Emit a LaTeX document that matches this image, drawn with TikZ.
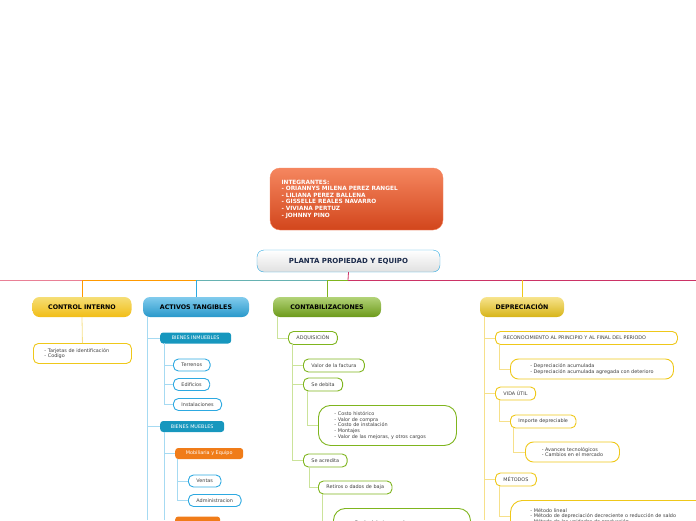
\documentclass[tikz,border=0pt]{standalone}
\usepackage{fontspec}
\setmainfont{DejaVu Sans}
\usetikzlibrary{calc}
\definecolor{yel}{HTML}{EFC81A}\definecolor{yell}{HTML}{F6E08A}
\definecolor{grn}{HTML}{7FB51E}\definecolor{grnl}{HTML}{CBE39A}
\definecolor{blu}{HTML}{2DA9E1}\definecolor{blul}{HTML}{A6DAF2}
\definecolor{teal2}{HTML}{1797BE}\definecolor{org}{HTML}{F07C19}
\definecolor{navy}{HTML}{1B2A4A}
\definecolor{itop}{HTML}{F5865F}\definecolor{ibot}{HTML}{D2461C}
\begin{document}
\begin{tikzpicture}[x=1pt,y=-1pt,
 box/.style={draw,rounded corners=5pt,line width=0.9pt,fill=white,inner sep=1.5pt,anchor=north west,font=\fontsize{4.9}{5.8}\selectfont,text=black!75,align=left},
 main/.style={rounded corners=7pt,inner sep=0pt,font=\bfseries\fontsize{6.3}{7}\selectfont,text=black},
 ln/.style={line width=0.8pt}]
\useasboundingbox (0,0) rectangle (696,520);
\clip (0,0) rectangle (696,520);
% top lines
\draw[ln,color=red!30!purple!50!white] (0,280) -- (82,280);
\draw[ln,color=orange!80!yellow] (82,280) -- (196,280);
\draw[ln,color=teal!60] (196,280) -- (327,280);
\draw[ln,color=grn] (327,280) -- (348,280);
\draw[ln,color=purple!80] (348,280) -- (696,280);
% integrantes
\node[rounded corners=10pt,top color=itop,bottom color=ibot,draw=itop,minimum width=173pt,minimum height=62pt,text=white,font=\bfseries\fontsize{5.8}{6.6}\selectfont,align=left,text width=150pt] (int) at (356.5,199) {INTEGRANTES:\\- ORIANNYS MILENA PEREZ RANGEL\\- LILIANA PEREZ BALLENA\\- GISSELLE REALES NAVARRO\\- VIVIANA PERTUZ\\- JOHNNY PINO};
% central
\node[rounded corners=7pt,draw=blu,top color=white,bottom color=black!12,minimum width=183pt,minimum height=22pt,font=\bfseries\fontsize{7}{8}\selectfont,text=navy] (root) at (348.5,261) {PLANTA PROPIEDAD Y EQUIPO};
\draw[ln,purple!80] (root.south) -- (348,280);
% main branches
\node[main,top color=yel!60,bottom color=yel!85!orange,minimum width=99pt,minimum height=20pt] (ci) at (82,307) {CONTROL INTERNO};
\node[main,top color=blu!60,bottom color=blu!90!black,minimum width=106pt,minimum height=20pt] (at) at (196,307) {ACTIVOS TANGIBLES};
\node[main,top color=grn!60,bottom color=grn!85!black,minimum width=108pt,minimum height=20pt] (co) at (327,307) {CONTABILIZACIONES};
\node[main,top color=yel!50,bottom color=yel!90!black,minimum width=84pt,minimum height=20pt] (de) at (522,307) {DEPRECIACIÓN};
\draw[ln,orange!80!yellow] (ci.north) -- (82,280);
\draw[ln,blu] (at.north) -- (196,280);
\draw[ln,grn] (co.north) -- (327,280);
\draw[ln,yel] (de.north) -- (522,280);
% control interno
\node[box,draw=yel,minimum width=98pt,minimum height=20pt,text width=90pt] (ci1) at (33,343) {\hspace*{7pt}- Tarjetas de identificación\\\hspace*{7pt}- Codigo};
\draw[ln,yell] (ci.south) -- (ci1.north);
% activos tangibles
\tikzset{fb/.style={anchor=west,rounded corners=3pt,inner sep=2pt,font=\fontsize{4.9}{5.8}\selectfont,text=white,minimum height=11pt}}
\node[fb,fill=teal2,minimum width=71pt] (bi) at (160,338) {BIENES INMUEBLES};
\node[fb,fill=teal2,minimum width=64pt] (bm) at (160,426.5) {BIENES MUEBLES};
\draw[ln,blul] (147,317) -- (147,520);
\draw[ln,blul] (147,338) -- (bi.west); \draw[ln,blul] (147,426.5) -- (bm.west);
\tikzset{bb/.style={box,anchor=west,draw=blu,minimum height=12pt,inner xsep=8pt}}
\node[bb] (t1) at (173,365) {Terrenos};
\node[bb] (t2) at (173,384.5) {Edificios};
\node[bb] (t3) at (173,404.5) {Instalaciones};
\draw[ln,blul] (164,343) |- (t1.west); \draw[ln,blul] (164,343) |- (t2.west); \draw[ln,blul] (164,343) |- (t3.west);
\node[fb,fill=org,minimum width=68pt] (mo) at (175,453.5) {Mobiliaria y Equipo};
\node[fb,fill=org,minimum width=45pt] (mo2) at (175,522) {};
\draw[ln,blul] (164,432) -- (164,520); \draw[ln,blul] (164,453.5) -- (mo.west);\draw[ln,blul] (164,522) -- (mo2.west);
\node[bb] (v1) at (188,481) {Ventas};
\node[bb] (v2) at (188,500.5) {Administracion};
\draw[ln,blul] (177,459) |- (v1.west); \draw[ln,blul] (177,459) |- (v2.west);
% contabilizaciones
\tikzset{gb/.style={box,anchor=west,draw=grn,minimum height=13pt,inner xsep=8pt}}
\node[gb] (aq) at (288,338) {ADQUISICIÓN};
\draw[ln,grnl] (277,317) |- (aq.west);
\node[gb] (vf) at (303,365.5) {Valor de la factura};
\node[gb] (sd) at (303,384.5) {Se debita};
\node[gb] (sa) at (303,460.5) {Se acredita};
\draw[ln,grnl] (292,344) |- (vf.west); \draw[ln,grnl] (292,344) |- (sd.west); \draw[ln,grnl] (292,344) |- (sa.west);
\node[box,draw=grn,rounded corners=12pt,minimum width=138pt,minimum height=40pt,text width=118pt,inner xsep=10pt] (lst) at (318,405) {\hspace*{6pt}- Costo histórico\\\hspace*{6pt}- Valor de compra\\\hspace*{6pt}- Costo de instalación\\\hspace*{6pt}- Montajes\\\hspace*{6pt}- Valor de las mejoras, y otros cargos};
\draw[ln,grnl] (307,391) |- (lst.west);
\node[gb] (rb) at (318,487.5) {Retiros o dados de baja};
\draw[ln,grnl] (309,467) |- (rb.west);
\node[box,draw=grn,rounded corners=12pt,minimum width=137pt,minimum height=30pt,text width=117pt,inner xsep=10pt] (rb1) at (333,508) {\hspace*{8pt}- Se da debaja por robo};
\draw[ln,grnl] (322,494) |- (rb1.west);
% depreciacion
\tikzset{yb/.style={box,anchor=west,draw=yel,minimum height=13pt,inner xsep=8pt}}
\draw[ln,yell] (484,317) -- (484,520);
\node[yb,text width=166pt] (rc) at (495,338) {RECONOCIMIENTO AL PRINCIPIO Y AL FINAL DEL PERIODO};
\node[yb] (vu) at (495,393.5) {VIDA ÚTIL};
\node[yb] (me) at (495,479.5) {MÉTODOS};
\draw[ln,yell] (484,338) -- (rc.west);\draw[ln,yell] (484,393.5) -- (vu.west);\draw[ln,yell] (484,479.5) -- (me.west);
\node[box,anchor=west,draw=yel,rounded corners=8pt,minimum width=163pt,minimum height=20pt,inner xsep=12pt] (da) at (510,369) {- Depreciación acumulada\\- Depreciación acumulada agregada con deterioro};
\draw[ln,yell] (499,345) |- (da.west);
\node[yb] (ip) at (510,421.5) {Importe depreciable};
\draw[ln,yell] (499,400) |- (ip.west);
\node[box,anchor=west,draw=yel,rounded corners=8pt,minimum width=94pt,minimum height=20pt,inner xsep=12pt] (av) at (525,452) {- Avances tecnológicos\\- Cambios en el mercado};
\draw[ln,yell] (513,428) |- (av.west);
\node[box,draw=yel,rounded corners=12pt,minimum width=200pt,minimum height=32pt,inner xsep=20pt,text width=170pt] (mt) at (510,500) {- Método lineal\\- Método de depreciación decreciente o reducción de saldo\\- Método de las unidades de producción};
\draw[ln,yell] (499,486) |- (mt.west);
\end{tikzpicture}
\end{document}
